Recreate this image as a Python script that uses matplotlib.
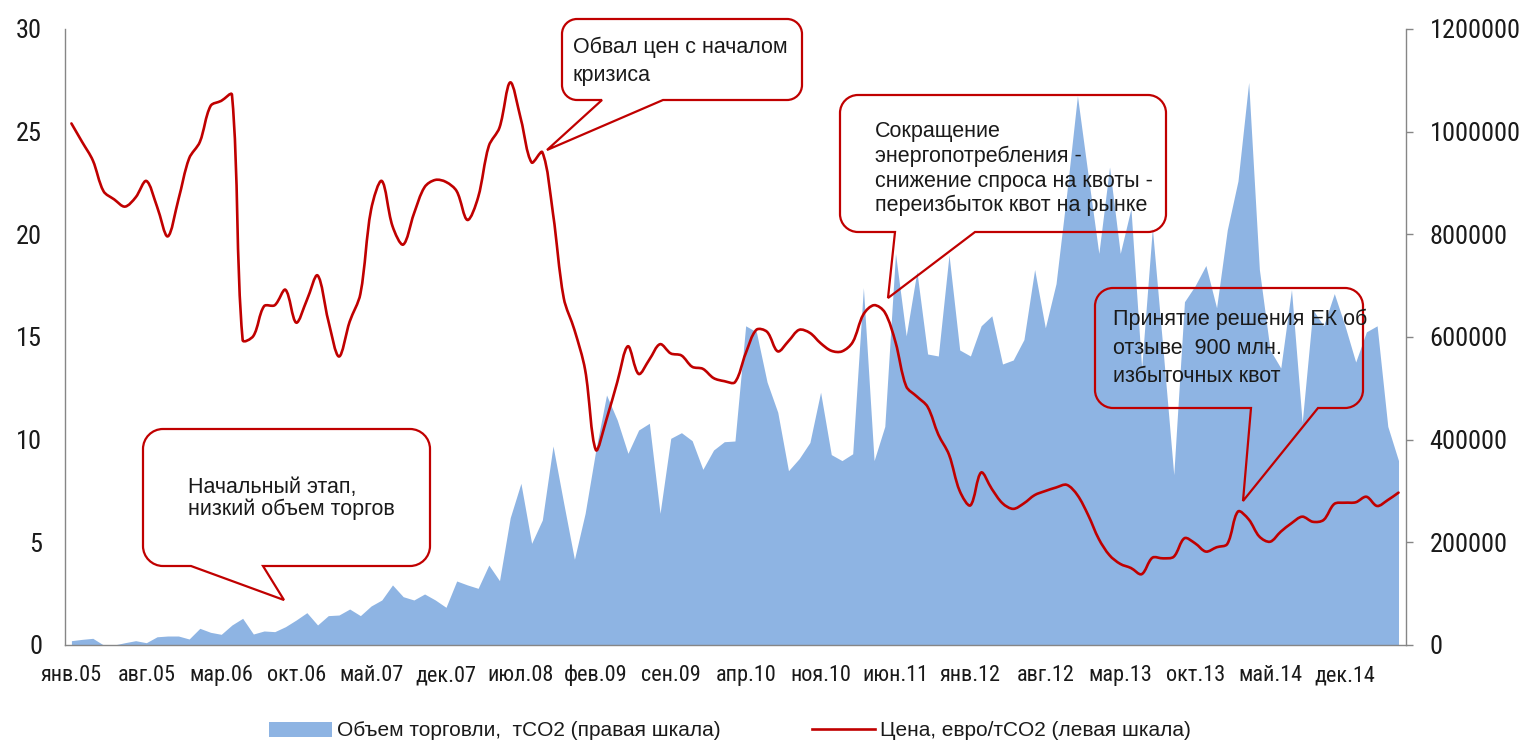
import numpy as np
import matplotlib
matplotlib.use("Agg")
import matplotlib.pyplot as plt
from matplotlib import font_manager as fm
from matplotlib.path import Path
from matplotlib.patches import PathPatch, Patch
from matplotlib.lines import Line2D

# ================================= Данные =================================
# месячные данные, янв.2005 - май.2015
mes_nomes = ['янв', 'фев', 'мар', 'апр', 'май', 'июн',
             'июл', 'авг', 'сен', 'окт', 'ноя', 'дек']
ano_inicio = 5

# цена, евро/тCO2 (левая шкала)
preco = [
    25.4, 24.5, 23.6, 22.1, 21.7, 21.35, 21.8, 22.6, 21.35, 19.9,
    21.7, 23.7, 24.5, 26.25, 26.5, 26.8, 14.85, 15.05, 16.5, 16.55,
    17.3, 15.7, 16.8, 18.0, 15.8, 14.05, 15.75, 17.1, 21.2, 22.6,
    20.4, 19.5, 21.0, 22.3, 22.65, 22.55, 22.1, 20.7, 21.8, 24.3,
    25.2, 27.4, 25.6, 23.5, 24.0, 21.0, 16.9, 15.35, 13.4, 9.5,
    11.0, 12.8, 14.55, 13.2, 13.9, 14.65, 14.2, 14.1, 13.55, 13.45,
    13.0, 12.85, 12.8, 14.2, 15.35, 15.25, 14.3, 14.8, 15.35, 15.2,
    14.7, 14.33, 14.3, 14.75, 16.1, 16.55, 16.2, 14.75, 12.6, 12.1,
    11.6, 10.25, 9.27, 7.5, 6.8, 8.4, 7.6, 6.9, 6.63, 6.9,
    7.3, 7.5, 7.67, 7.8, 7.3, 6.33, 5.16, 4.37, 3.95, 3.75,
    3.45, 4.25, 4.22, 4.3, 5.2, 4.95, 4.55, 4.76, 4.92, 6.5,
    6.12, 5.28, 5.03, 5.52, 5.93, 6.25, 6.0, 6.09, 6.87, 6.93,
    6.95, 7.22, 6.77, 7.06, 7.42,
]

# объем торговли, тCO2 (правая шкала)
volume = [
    8400, 11000, 13000, 0, 0, 4500, 8400, 4500, 16000, 17500,
    17500, 11700, 32500, 24700, 20800, 39000, 52000, 21400, 27300, 26000,
    35700, 48700, 63000, 39000, 57200, 58400, 70100, 57200, 76000, 87700,
    117000, 94100, 87700, 99400, 87700, 73400, 124700, 117000, 110400, 155800,
    125300, 248000, 315000, 198000, 243500, 387700, 276000, 167000, 256500, 379800,
    487000, 438300, 373400, 418800, 431900, 256500, 402600, 413600, 398000, 342200,
    379800, 396000, 397400, 621800, 610000, 512300, 453300, 339500, 363100, 394500,
    492500, 370900, 359200, 372500, 696200, 359200, 425800, 762800, 602100, 727600,
    566900, 563000, 760000, 574700, 563000, 621800, 641300, 547400, 555200, 595000,
    731500, 617900, 704000, 880000, 1070000, 915000, 762800, 931300, 762800, 850000,
    540000, 812000, 575000, 331700, 668700, 700000, 739300, 657000, 808600, 904000,
    1096000, 731500, 574700, 539600, 692300, 433600, 653100, 621800, 684600, 621800,
    551300, 610000, 621800, 425800, 359200,
]

rotulo_volume = 'Объем торговли,  тCO2 (правая шкала)'
rotulo_preco = 'Цена, евро/тCO2 (левая шкала)'

textos = [
    ['Начальный этап,', 'низкий объем торгов'],
    ['Обвал цен с началом', 'кризиса'],
    ['Сокращение', 'энергопотребления -', 'снижение спроса на квоты -',
     'переизбыток квот на рынке'],
    ['Принятие решения ЕК об', 'отзыве  900 млн.', 'избыточных квот'],
]

# ================================= Estilo =================================
W, H = 1523, 744
VERMELHO = '#C00000'
AZUL = '#8EB4E3'
CINZA = '#868686'
TEXTO = '#1a1a1a'

plt.rcParams['font.family'] = ['Liberation Sans', 'DejaVu Sans']
nomes = {f.name for f in fm.fontManager.ttflist}
fonte_eixo = ['Liberation Sans', 'DejaVu Sans']
tam_y, tam_x = 17, 13.5
for cand in ['Liberation Sans Narrow', 'Arial Narrow', 'Roboto Condensed']:
    if cand in nomes:
        fonte_eixo = [cand, 'DejaVu Sans']
        tam_y, tam_x = 19, 16
        break


def fx(x):
    return x / W


def fy(y):
    return 1 - y / H


def smooth_path(ax, xs, ys):
    # curva suave tipo Excel: tangentes ponderadas pelo comprimento dos segmentos
    p = np.column_stack([xs, ys]).astype(float)
    d = ax.transData.transform(p)
    n = len(p)
    seg = np.hypot(*np.diff(d, axis=0).T)
    verts = [p[0]]
    codes = [Path.MOVETO]
    for i in range(n - 1):
        p0 = p[i - 1] if i > 0 else p[i]
        p3 = p[i + 2] if i + 2 < n else p[i + 1]
        p1, p2 = p[i], p[i + 1]
        d01 = seg[i - 1] if i > 0 else 0.0
        d12 = seg[i]
        d23 = seg[i + 1] if i + 2 < n else 0.0
        w1 = d12 / (d01 + d12) if d01 + d12 > 0 else 0.5
        w2 = d12 / (d12 + d23) if d12 + d23 > 0 else 0.5
        c1 = p1 + (p2 - p0) * w1 / 3
        c2 = p2 - (p3 - p1) * w2 / 3
        verts += [c1, c2, p2]
        codes += [Path.CURVE4] * 3
    return Path(verts, codes)


def balao(fig, esq, topo, dir_, base, r, b1, b2, ponta):
    k = 0.5523 * r
    v = [(esq + r, topo), (dir_ - r, topo),
         (dir_ - r + k, topo), (dir_, topo + r - k), (dir_, topo + r),
         (dir_, base - r),
         (dir_, base - r + k), (dir_ - r + k, base), (dir_ - r, base),
         (b2, base), ponta, (b1, base),
         (esq + r, base),
         (esq + r - k, base), (esq, base - r + k), (esq, base - r),
         (esq, topo + r),
         (esq, topo + r - k), (esq + r - k, topo), (esq + r, topo),
         (esq + r, topo)]
    c = ([Path.MOVETO, Path.LINETO] + [Path.CURVE4] * 3 + [Path.LINETO]
         + [Path.CURVE4] * 3 + [Path.LINETO] * 4 + [Path.CURVE4] * 3
         + [Path.LINETO] + [Path.CURVE4] * 3 + [Path.CLOSEPOLY])
    v = [(fx(a), fy(b)) for a, b in v]
    fig.add_artist(PathPatch(Path(v, c), transform=fig.transFigure,
                             fill=False, ec=VERMELHO, lw=1.6,
                             joinstyle='miter', zorder=5))


# ================================= Gráfico =================================
fig = plt.figure(figsize=(W / 100, H / 100), dpi=100)
ax1 = fig.add_axes([fx(65), fy(645), (1406 - 65) / W, (645 - 29) / H])
ax2 = ax1.twinx()

meses = np.arange(len(preco))

ax1.set_xlim(-0.6, 124.7)
ax1.set_ylim(0, 30)
ax2.set_ylim(0, 1200000)

ax2.fill_between(meses, 0, volume, color=AZUL, lw=0)
ax1.add_patch(PathPatch(smooth_path(ax1, meses, preco), fill=False,
                        ec=VERMELHO, lw=1.9, capstyle='round',
                        joinstyle='round'))

ax1.set_zorder(2)
ax2.set_zorder(1)
ax1.patch.set_visible(False)

ticks_x = np.arange(0, len(preco) - 5, 7)
ax1.set_xticks(ticks_x)
ax1.set_xticklabels([f'{mes_nomes[m % 12]}.{ano_inicio + m // 12:02d}'
                     for m in ticks_x])
ax1.set_yticks(np.arange(0, 31, 5))
ax2.set_yticks(np.arange(0, 1200001, 200000))
ax2.set_yticklabels([f'{int(v)}' for v in np.arange(0, 1200001, 200000)])

for s in ['top', 'right']:
    ax1.spines[s].set_visible(False)
for s in ['top', 'left', 'bottom']:
    ax2.spines[s].set_visible(False)
for a, s in [(ax1, 'left'), (ax1, 'bottom'), (ax2, 'right')]:
    a.spines[s].set_color(CINZA)
    a.spines[s].set_linewidth(1)

ax1.tick_params(axis='x', length=0, pad=26, labelsize=tam_x,
                labelcolor=TEXTO)
ax1.tick_params(axis='y', length=0, pad=16.5, labelsize=tam_y,
                labelcolor=TEXTO)
ax2.tick_params(axis='y', length=5, width=1, color=CINZA, direction='out',
                pad=12, labelsize=tam_y, labelcolor=TEXTO)
for lab in ax1.get_xticklabels():
    lab.set_family(fonte_eixo)
    lab.set_verticalalignment('baseline')
for lab in ax1.get_yticklabels() + ax2.get_yticklabels():
    lab.set_family(fonte_eixo)

# ================================= Balões =================================
balao(fig, 143, 429, 430, 566, 20, 191, 263, (284, 600))
balao(fig, 562, 19, 802, 100, 15, 602, 663, (547, 150))
balao(fig, 840, 95, 1166, 232, 18, 895, 975, (888, 298))
balao(fig, 1095, 288, 1363, 408, 18, 1251, 1318, (1243, 501))

posicoes = [
    (188, [493, 515]),
    (573, [53, 81]),
    (875, [137, 162, 187, 211]),
    (1113, [325, 354, 382]),
]
for linhas, (x0, ys) in zip(textos, posicoes):
    for linha, yb in zip(linhas, ys):
        fig.text(fx(x0), fy(yb), linha, ha='left', va='baseline',
                 fontsize=15.5, color=TEXTO, zorder=6)

# ================================= Legenda =================================
handles = [Patch(facecolor=AZUL, edgecolor='none'),
           Line2D([0], [0], color=VERMELHO, lw=1.9)]
fig.legend(handles, [rotulo_volume, rotulo_preco], loc='center',
           bbox_to_anchor=(fx(730), fy(731)), ncol=2, frameon=False,
           fontsize=15, handlelength=3, handleheight=0.7,
           handletextpad=0.25, columnspacing=4.4, borderaxespad=0,
           borderpad=0, labelcolor=TEXTO)

fig.savefig('out.png', dpi=100)
